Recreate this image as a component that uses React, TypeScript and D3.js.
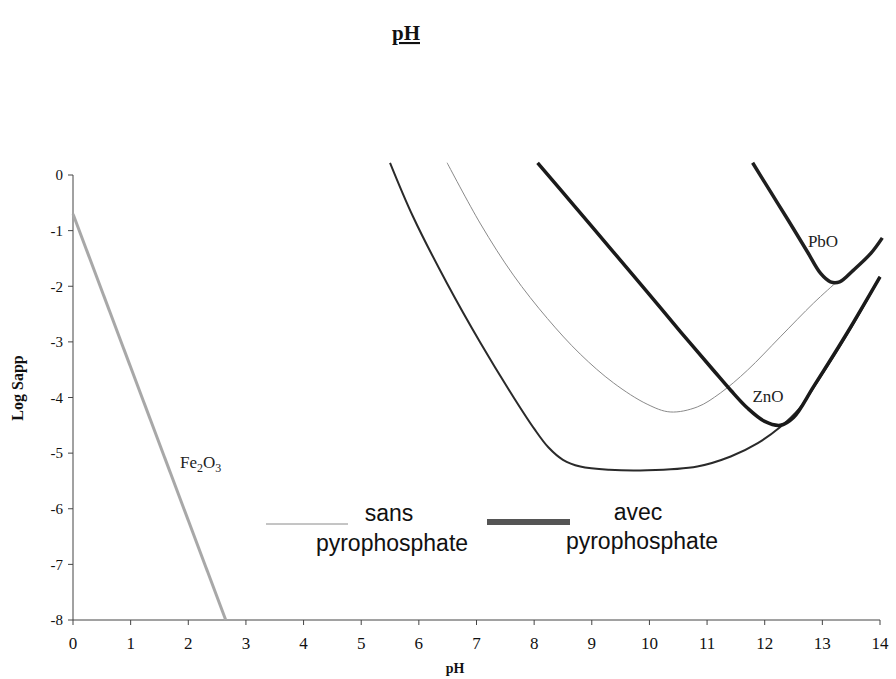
import React from 'react';
import * as d3 from 'd3';

// pH ticks / log S ticks
const xTicks = [0, 1, 2, 3, 4, 5, 6, 7, 8, 9, 10, 11, 12, 13, 14];
const yTicks = [0, -1, -2, -3, -4, -5, -6, -7, -8];

type Pt = [number, number];

const fe2o3: Pt[] = [
  [0, -0.7],
  [2.65, -8],
];

// ZnO sans pyrophosphate (thin grey)
const znoSans: Pt[] = [
  [6.49, 0.22], [7.07, -0.88], [7.64, -1.8], [8.23, -2.58], [8.8, -3.22],
  [9.38, -3.74], [9.96, -4.12], [10.36, -4.26], [10.83, -4.17], [11.23, -3.92],
  [11.7, -3.51], [12.27, -2.91], [12.85, -2.3], [13.23, -1.94],
];

// ZnO avec pyrophosphate (thick)
const znoAvec: Pt[] = [
  [8.06, 0.22], [8.7, -0.56], [9.38, -1.39], [9.96, -2.1], [10.54, -2.82],
  [11.11, -3.51], [11.41, -3.87], [11.7, -4.19], [12.0, -4.43], [12.27, -4.5],
  [12.5, -4.36], [12.85, -3.8], [13.44, -2.82], [14.0, -1.83],
];

// lower curve
const lowCurve: Pt[] = [
  [5.5, 0.22], [5.9, -0.75], [6.49, -1.95], [7.07, -3.02], [7.64, -3.99],
  [8.0, -4.56], [8.25, -4.9], [8.5, -5.12], [8.8, -5.24], [9.3, -5.3],
  [9.96, -5.31], [10.83, -5.24], [11.41, -5.06], [11.88, -4.82], [12.27, -4.53],
  [12.6, -4.2], [12.9, -3.74], [13.44, -2.85], [14.0, -1.83],
];

// PbO avec pyrophosphate
const pbo: Pt[] = [
  [11.79, 0.22], [12.1, -0.3], [12.4, -0.8], [12.74, -1.38], [12.97, -1.77],
  [13.14, -1.92], [13.3, -1.92], [13.54, -1.71], [13.84, -1.41], [14.04, -1.13],
];

const W = 896;
const H = 679;

export default function App() {
  const x = d3.scaleLinear().domain([0, 14]).range([73, 880]);
  const y = d3.scaleLinear().domain([-8, 0]).range([620, 175]);
  const line = d3
    .line<Pt>()
    .x((d) => x(d[0]))
    .y((d) => y(d[1]))
    .curve(d3.curveCatmullRom.alpha(0.5));
  const straight = d3
    .line<Pt>()
    .x((d) => x(d[0]))
    .y((d) => y(d[1]));

  const serif = "'Liberation Serif', 'Times New Roman', serif";
  const sans = "'Liberation Sans', Arial, sans-serif";

  return (
    <svg
      width={W}
      height={H}
      style={{ position: 'absolute', left: 0, top: 0, background: '#fff' }}
    >
      {/* title */}
      <text
        x={406}
        y={40}
        textAnchor="middle"
        fontFamily={serif}
        fontWeight="bold"
        fontSize={21}
        textDecoration="underline"
        fill="#111"
      >
        pH
      </text>

      {/* axes */}
      <line x1={x(0)} x2={x(0)} y1={y(0)} y2={y(-8)} stroke="#444" strokeWidth={1} />
      <line x1={x(0)} x2={x(14)} y1={y(-8)} y2={y(-8)} stroke="#444" strokeWidth={1} />
      {yTicks.map((t) => (
        <g key={'y' + t}>
          <line x1={x(0) - 5} x2={x(0)} y1={y(t)} y2={y(t)} stroke="#444" />
          <text
            x={x(0) - 10}
            y={y(t)}
            dy="0.35em"
            textAnchor="end"
            fontFamily={serif}
            fontSize={15}
            fill="#111"
          >
            {t === 0 ? '0' : '-' + Math.abs(t)}
          </text>
        </g>
      ))}
      {xTicks.map((t) => (
        <g key={'x' + t}>
          <line x1={x(t)} x2={x(t)} y1={y(-8)} y2={y(-8) + 5} stroke="#444" />
          <text
            x={x(t)}
            y={y(-8) + 29}
            textAnchor="middle"
            fontFamily={serif}
            fontSize={17}
            fill="#111"
          >
            {t}
          </text>
        </g>
      ))}
      <text
        x={455}
        y={673}
        textAnchor="middle"
        fontFamily={serif}
        fontWeight="bold"
        fontSize={14}
        fill="#111"
      >
        pH
      </text>
      <text
        transform={`translate(23, ${388}) rotate(-90)`}
        textAnchor="middle"
        fontFamily={serif}
        fontWeight="bold"
        fontSize={16}
        fill="#111"
      >
        Log Sapp
      </text>

      {/* curves */}
      <path d={straight(fe2o3) ?? ''} fill="none" stroke="#a8a8a8" strokeWidth={3} />
      <path d={line(znoSans) ?? ''} fill="none" stroke="#8a8a8a" strokeWidth={1} />
      <path d={line(lowCurve) ?? ''} fill="none" stroke="#2a2a2a" strokeWidth={2} />
      <path d={line(znoAvec) ?? ''} fill="none" stroke="#1a1a1a" strokeWidth={3.5} />
      <path d={line(pbo) ?? ''} fill="none" stroke="#1f1f1f" strokeWidth={3.5} />

      {/* curve labels */}
      <text x={180} y={468} fontFamily={serif} fontSize={17} fill="#222">
        Fe<tspan fontSize={12} dy={4}>2</tspan>
        <tspan dy={-4}>O</tspan>
        <tspan fontSize={12} dy={4}>3</tspan>
      </text>
      <text x={823} y={247} textAnchor="middle" fontFamily={serif} fontSize={17} fill="#222">
        PbO
      </text>
      <text x={768} y={402} textAnchor="middle" fontFamily={serif} fontSize={17} fill="#222">
        ZnO
      </text>

      {/* legend */}
      <line x1={266} x2={348} y1={524} y2={524} stroke="#8a8a8a" strokeWidth={1} />
      <text x={389} y={521} textAnchor="middle" fontFamily={sans} fontSize={23} fill="#111">
        sans
      </text>
      <text x={392} y={551} textAnchor="middle" fontFamily={sans} fontSize={23} fill="#111">
        pyrophosphate
      </text>
      <line x1={487} x2={570} y1={522} y2={522} stroke="#555" strokeWidth={6} />
      <text x={638} y={520} textAnchor="middle" fontFamily={sans} fontSize={23} fill="#111">
        avec
      </text>
      <text x={642} y={549} textAnchor="middle" fontFamily={sans} fontSize={23} fill="#111">
        pyrophosphate
      </text>
    </svg>
  );
}
